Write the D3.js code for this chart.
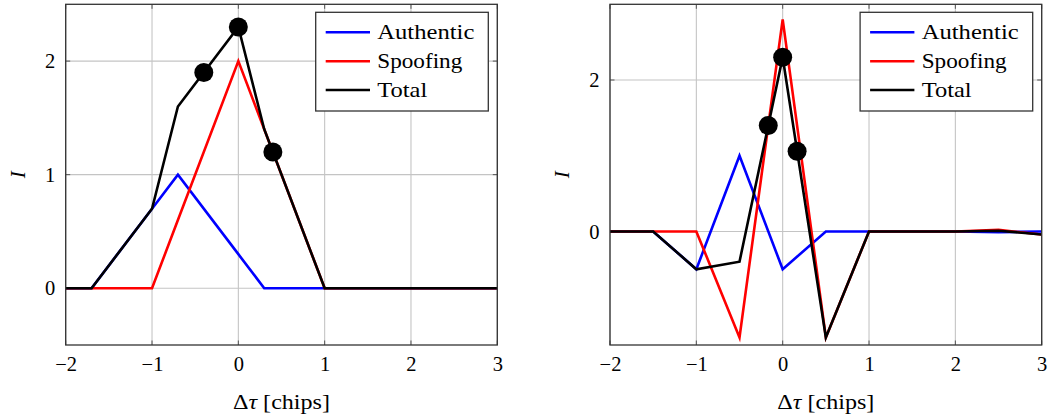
<!DOCTYPE html>
<html>
<head>
<meta charset="utf-8">
<script src="https://cdn.jsdelivr.net/npm/d3@7"></script>
<style>
  html, body { margin: 0; padding: 0; background: #fff; }
  svg { display: block; }
  svg text { font-family: "Liberation Serif", "DejaVu Serif", serif !important; fill: #000; }
</style>
</head>
<body>
<svg id="chart" width="1051" height="419"></svg>
<script>
// ---------- data ----------
const seriesNames = ["Authentic", "Spoofing", "Total"];
const seriesColors = ["#0000ff", "#ff0000", "#000000"];

const xTicks = [-2, -1, 0, 1, 2, 3];
const leftYTicks = [0, 1, 2];
const rightYTicks = [0, 2];

// left panel
const leftX         = [-2, -1.7, -1,  -0.7, 0,   0.3, 1, 3];
const leftAuthentic = [ 0,  0,    0.7, 1,   0.3, 0,   0, 0];
const leftSpoofing  = [ 0,  0,    0,   0.6, 2,   1.4, 0, 0];
const leftTotal     = [ 0,  0,    0.7, 1.6, 2.3, 1.4, 0, 0];
const leftMarkerX   = [-0.4, 0, 0.4];
const leftMarkerY   = [1.9, 2.3, 1.2];

// right panel
const rightX         = [-2, -1.5, -1,   -0.5, 0,    0.5, 1, 1.5, 2, 2.5,   3];
const rightAuthentic = [ 0,  0,   -0.5,  1,  -0.5,  0,   0, 0,   0, -0.01, 0];
const rightSpoofing  = [ 0,  0,    0,   -1.4, 2.8, -1.4, 0, 0,   0, 0.02, -0.04];
const rightTotal     = [ 0,  0,   -0.5, -0.4, 2.3, -1.4, 0, 0,   0, 0.01, -0.04];
const rightMarkerX   = [-0.167, 0, 0.167];
const rightMarkerY   = [1.4, 2.3, 1.06];

const xDomain = [-2, 3];
const leftYDomain = [-0.5, 2.5];
const rightYDomain = [-1.5, 3];

const xLabel = "Δτ [chips]";
const yLabel = "I";

// ---------- drawing ----------
const svg = d3.select("#chart");
const plotTop = 4.3, plotBottom = 345;
const FONT = '"Liberation Serif", "DejaVu Serif", serif';

function drawPanel(id, left, right, yDomain, yTicks, X, series, mX, mY) {
  const x = d3.scaleLinear().domain(xDomain).range([left, right]);
  const y = d3.scaleLinear().domain(yDomain).range([plotBottom, plotTop]);
  const g = svg.append("g");

  g.append("clipPath").attr("id", "clip" + id)
    .append("rect").attr("x", left).attr("y", plotTop)
    .attr("width", right - left).attr("height", plotBottom - plotTop);

  // grid
  const grid = g.append("g").attr("stroke", "#c4c4c4").attr("stroke-width", 1.1);
  xTicks.forEach(t => grid.append("line")
    .attr("x1", x(t)).attr("x2", x(t)).attr("y1", plotTop).attr("y2", plotBottom));
  yTicks.forEach(t => grid.append("line")
    .attr("x1", left).attr("x2", right).attr("y1", y(t)).attr("y2", y(t)));

  // inner ticks (all four sides)
  const tk = 4.5;
  const ticks = g.append("g").attr("stroke", "#555").attr("stroke-width", 1);
  xTicks.forEach(t => {
    ticks.append("line").attr("x1", x(t)).attr("x2", x(t)).attr("y1", plotBottom).attr("y2", plotBottom - tk);
    ticks.append("line").attr("x1", x(t)).attr("x2", x(t)).attr("y1", plotTop).attr("y2", plotTop + tk);
  });
  yTicks.forEach(t => {
    ticks.append("line").attr("x1", left).attr("x2", left + tk).attr("y1", y(t)).attr("y2", y(t));
    ticks.append("line").attr("x1", right).attr("x2", right - tk).attr("y1", y(t)).attr("y2", y(t));
  });

  // series lines
  const line = d3.line().x(d => x(d[0])).y(d => y(d[1]));
  const lg = g.append("g").attr("clip-path", `url(#clip${id})`);
  series.forEach((vals, i) => {
    lg.append("path")
      .datum(X.map((xv, j) => [xv, vals[j]]))
      .attr("d", line)
      .attr("fill", "none")
      .attr("stroke", seriesColors[i])
      .attr("stroke-width", 2.6)
      .attr("stroke-linejoin", "miter");
  });

  // markers
  lg.selectAll("circle.m").data(mX.map((v, i) => [v, mY[i]])).enter()
    .append("circle").attr("class", "m")
    .attr("cx", d => x(d[0])).attr("cy", d => y(d[1]))
    .attr("r", 9.5).attr("fill", "#000");

  // frame
  g.append("rect").attr("x", left).attr("y", plotTop)
    .attr("width", right - left).attr("height", plotBottom - plotTop)
    .attr("fill", "none").attr("stroke", "#333").attr("stroke-width", 1.3);

  // x tick labels via axis
  const xAxis = d3.axisBottom(x).tickValues(xTicks).tickSize(0).tickPadding(0)
    .tickFormat(d3.format("d"));
  const xa = g.append("g").attr("transform", `translate(0,${plotBottom})`).call(xAxis);
  xa.select(".domain").remove();
  xa.attr("font-family", FONT);
  xa.selectAll("text").attr("y", 25.5).attr("dy", null)
    .attr("font-size", 20.5).style("font-family", FONT).attr("fill", "#000");

  // y tick labels via axis
  const yAxis = d3.axisLeft(y).tickValues(yTicks).tickSize(0).tickPadding(0)
    .tickFormat(d3.format("d"));
  const ya = g.append("g").attr("transform", `translate(${left - 10.5},0)`).call(yAxis);
  ya.select(".domain").remove();
  ya.attr("font-family", FONT);
  ya.selectAll("text").attr("x", 0).attr("dy", "6.6")
    .attr("font-size", 20.5).style("font-family", FONT).attr("fill", "#000");

  // axis labels
  const xl = g.append("text")
    .attr("x", (left + right) / 2).attr("y", 409)
    .attr("text-anchor", "middle").attr("font-size", 21).style("font-family", FONT)
    .attr("textLength", 97).attr("lengthAdjust", "spacingAndGlyphs");
  xl.append("tspan").text(xLabel.slice(0, 1));
  xl.append("tspan").attr("font-style", "italic").text(xLabel.slice(1, 2));
  xl.append("tspan").text(xLabel.slice(2));

  g.append("text")
    .attr("transform", `translate(${left - 41},${(plotTop + plotBottom) / 2}) rotate(-90)`)
    .attr("text-anchor", "middle").attr("font-size", 21).attr("font-style", "italic")
    .style("font-family", FONT)
    .text(yLabel);

  // legend
  const bx = right - 181.6, by = 12.3, bw = 172.6, bh = 98.7;
  const leg = g.append("g");
  leg.append("rect").attr("x", bx).attr("y", by).attr("width", bw).attr("height", bh)
    .attr("fill", "#fff").attr("stroke", "#333").attr("stroke-width", 1.3);
  const rowY = [32.3, 61.3, 90];
  const widths = [97, 85, 50];
  seriesNames.forEach((name, i) => {
    leg.append("line").attr("x1", bx + 10).attr("x2", bx + 54.3)
      .attr("y1", rowY[i]).attr("y2", rowY[i])
      .attr("stroke", seriesColors[i]).attr("stroke-width", 2.6);
    leg.append("text").attr("x", bx + 61.6).attr("y", rowY[i] + 7)
      .attr("font-size", 21).style("font-family", FONT)
      .attr("textLength", widths[i]).attr("lengthAdjust", "spacingAndGlyphs")
      .text(name);
  });
}

drawPanel("L", 65.7, 497.3, leftYDomain, leftYTicks, leftX,
  [leftAuthentic, leftSpoofing, leftTotal], leftMarkerX, leftMarkerY);
drawPanel("R", 610, 1041.7, rightYDomain, rightYTicks, rightX,
  [rightAuthentic, rightSpoofing, rightTotal], rightMarkerX, rightMarkerY);
</script>
</body>
</html>
